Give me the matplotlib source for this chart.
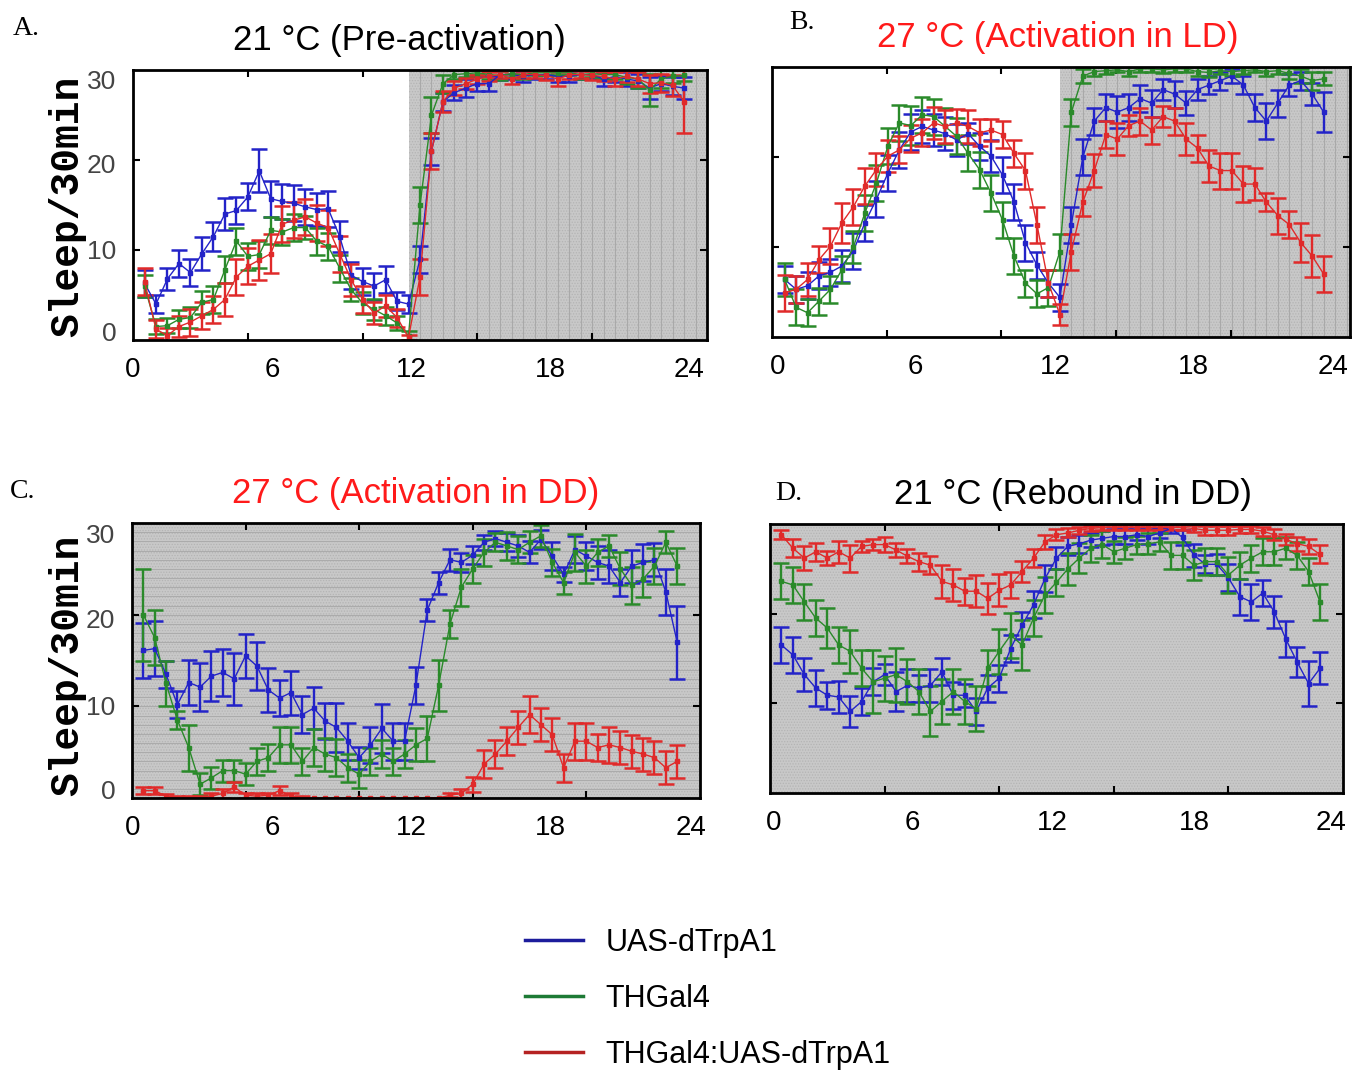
import numpy as np
import matplotlib
matplotlib.use("Agg")
import matplotlib.pyplot as plt
from matplotlib.lines import Line2D

plt.rcParams["font.family"] = ["Liberation Sans", "DejaVu Sans"]
plt.rcParams["hatch.linewidth"] = 0.6

# 30-min bins, hours
hours = np.arange(1, 49) * 0.5

# ---- A. 21 C pre-activation (LD) ----
blue_a = [6.3, 4.0, 6.8, 8.5, 7.5, 9.6, 11.5, 14.0, 14.4, 15.9, 18.8, 15.7, 15.4, 15.2, 14.8, 14.5, 14.6, 11.5, 7.2, 6.5, 6.0, 6.7, 4.3, 4.0,
          9.0, 21.0, 26.5, 27.5, 28.0, 28.5, 28.5, 29.5, 29.5, 29.3, 29.5, 29.5, 29.3, 29.3, 29.5, 29.5, 29.0, 29.3, 29.0, 28.8, 28.0, 28.5, 28.2, 28.0]
blue_a_err = [1.5, 1.0, 1.2, 1.5, 1.5, 1.8, 1.6, 1.8, 1.5, 1.5, 2.4, 2.0, 1.9, 2.0, 2.0, 1.8, 2.0, 1.7, 1.5, 1.5, 1.5, 1.5, 1.0, 1.0,
              1.5, 1.5, 1.0, 0.8, 1.0, 0.8, 0.8, 0.6, 0.5, 0.6, 0.5, 0.5, 0.6, 0.6, 0.5, 0.5, 0.8, 0.6, 0.8, 0.8, 1.2, 0.8, 1.0, 1.2]
green_a = [6.0, 1.5, 1.6, 2.3, 2.5, 4.2, 4.5, 7.8, 11.0, 9.3, 9.5, 12.2, 12.0, 12.5, 12.5, 11.0, 10.4, 8.0, 5.6, 4.1, 3.4, 2.7, 1.9, 0.5,
           15.0, 25.0, 28.5, 29.5, 29.6, 29.7, 29.5, 29.4, 29.6, 29.5, 29.7, 29.7, 29.7, 29.7, 29.5, 29.6, 29.5, 29.5, 29.2, 29.0, 27.8, 29.0, 29.3, 29.4]
green_a_err = [1.2, 0.8, 0.8, 1.0, 1.2, 1.3, 1.5, 1.5, 1.5, 1.5, 1.5, 1.5, 1.4, 1.5, 1.3, 1.5, 1.5, 1.5, 1.3, 1.2, 1.2, 1.0, 0.8, 0.5,
               2.0, 2.0, 1.0, 0.5, 0.4, 0.3, 0.5, 0.5, 0.4, 0.5, 0.3, 0.3, 0.3, 0.3, 0.5, 0.4, 0.5, 0.5, 0.8, 1.0, 1.8, 1.0, 0.7, 0.6]
red_a = [6.5, 1.2, 0.5, 1.5, 2.0, 2.7, 3.4, 4.5, 7.0, 8.2, 8.9, 9.6, 12.9, 13.3, 13.7, 13.0, 12.5, 9.6, 6.7, 4.5, 3.0, 3.8, 2.5, 0.3,
         7.0, 21.0, 26.5, 28.0, 28.5, 29.0, 29.3, 29.5, 29.0, 29.5, 29.5, 29.4, 29.0, 29.5, 29.5, 29.4, 29.3, 29.0, 29.3, 29.0, 28.5, 28.6, 28.3, 26.5]
red_a_err = [1.5, 1.0, 0.8, 1.2, 1.5, 1.5, 1.5, 1.8, 2.0, 2.0, 2.2, 2.2, 2.0, 2.0, 2.0, 2.0, 2.0, 2.0, 1.8, 1.5, 1.2, 1.2, 1.0, 0.3,
             2.0, 2.0, 1.2, 0.8, 0.6, 0.5, 0.5, 0.4, 0.6, 0.4, 0.4, 0.5, 0.8, 0.5, 0.4, 0.5, 0.5, 0.8, 0.6, 0.8, 1.0, 1.0, 1.2, 3.5]

# ---- B. 27 C activation in LD ----
blue_b = [6.4, 5.3, 5.7, 6.8, 7.2, 7.9, 9.6, 12.7, 15.3, 18.2, 20.8, 22.8, 23.4, 23.0, 22.6, 21.9, 22.6, 21.2, 20.1, 18.0, 15.0, 10.5, 8.0, 6.0,
          4.4, 12.5, 20.0, 24.0, 25.5, 25.0, 25.5, 26.5, 26.0, 27.5, 27.0, 26.0, 27.5, 28.0, 28.5, 29.0, 28.0, 25.5, 24.0, 26.0, 28.0, 28.5, 27.0, 25.0]
blue_b_err = [1.5, 1.5, 1.5, 1.5, 1.5, 1.8, 2.0, 2.0, 2.0, 2.0, 2.0, 2.0, 1.8, 1.8, 1.8, 1.8, 1.2, 1.5, 1.8, 2.0, 2.0, 2.0, 1.5, 1.5,
              1.5, 2.0, 2.0, 1.5, 1.5, 1.8, 1.5, 1.5, 1.5, 1.2, 1.5, 1.3, 1.2, 1.0, 1.0, 0.8, 1.0, 1.5, 2.0, 1.5, 1.2, 1.0, 1.2, 2.2]
green_b = [6.4, 3.3, 2.7, 4.0, 5.3, 7.5, 10.0, 13.8, 17.1, 21.2, 23.8, 23.5, 24.7, 24.5, 23.4, 22.3, 20.4, 18.6, 16.0, 13.0, 9.0, 6.0, 4.8, 5.5,
           9.5, 25.0, 29.0, 29.5, 29.6, 29.7, 29.5, 29.8, 29.8, 29.7, 29.8, 29.8, 29.5, 29.4, 29.6, 29.5, 29.6, 29.7, 29.5, 29.6, 29.3, 29.0, 28.5, 28.7]
green_b_err = [1.8, 2.0, 1.5, 1.5, 1.5, 1.5, 1.8, 2.0, 2.0, 2.0, 2.0, 2.2, 2.0, 2.0, 2.0, 2.0, 2.0, 2.0, 2.0, 2.0, 2.0, 1.5, 1.5, 2.0,
               2.0, 1.5, 0.8, 0.5, 0.4, 0.3, 0.5, 0.3, 0.3, 0.4, 0.3, 0.3, 0.5, 0.5, 0.4, 0.5, 0.4, 0.3, 0.5, 0.4, 0.6, 0.8, 1.0, 0.7]
red_b = [4.9, 5.3, 6.4, 8.6, 10.1, 12.7, 14.5, 16.8, 18.6, 20.1, 20.8, 22.1, 22.7, 23.8, 23.4, 23.8, 23.4, 22.7, 23.0, 22.5, 20.4, 18.5, 12.5, 6.0,
         2.5, 9.5, 15.0, 18.5, 22.5, 22.0, 23.5, 24.0, 23.0, 24.5, 24.0, 22.0, 21.0, 19.0, 18.5, 18.5, 17.0, 17.0, 15.0, 13.5, 12.5, 10.5, 9.0, 7.0]
red_b_err = [2.0, 1.5, 1.8, 1.5, 2.0, 2.2, 2.0, 2.0, 1.8, 1.8, 1.5, 1.5, 1.5, 1.8, 1.8, 1.5, 1.8, 1.5, 1.2, 1.5, 1.5, 2.0, 2.0, 1.5,
             1.2, 2.0, 1.5, 1.8, 1.5, 1.8, 1.2, 1.5, 1.5, 1.2, 1.5, 1.8, 1.5, 1.8, 2.0, 2.0, 2.0, 1.8, 1.0, 2.0, 1.5, 2.2, 2.3, 2.0]

# ---- C. 27 C activation in DD ----
blue_c = [16.1, 16.3, 13.5, 10.2, 12.6, 12.1, 13.3, 13.7, 13.0, 15.5, 14.4, 11.8, 10.9, 11.5, 9.1, 9.8, 8.4, 7.7, 6.2, 4.4, 5.8, 7.6, 6.2, 6.2,
          12.3, 20.5, 23.5, 26.0, 25.7, 26.5, 27.9, 28.3, 27.9, 27.5, 26.8, 28.2, 26.4, 24.4, 27.1, 26.4, 25.7, 25.3, 23.5, 25.3, 25.7, 26.0, 22.5, 17.0]
blue_c_err = [3.0, 3.0, 1.5, 1.5, 2.5, 2.6, 2.7, 2.6, 2.8, 2.4, 2.6, 2.4, 2.0, 2.4, 2.0, 2.3, 2.0, 2.7, 2.0, 1.2, 2.0, 2.7, 2.0, 2.0,
              2.0, 1.2, 1.2, 1.2, 1.0, 1.0, 0.8, 0.8, 1.0, 1.2, 1.2, 1.0, 1.5, 0.8, 1.5, 1.5, 1.8, 1.8, 1.5, 1.8, 2.0, 1.8, 2.5, 4.0]
green_c = [20.0, 17.5, 12.5, 8.5, 5.5, 1.5, 2.2, 3.0, 3.0, 2.6, 4.0, 4.4, 5.8, 5.8, 4.0, 5.5, 4.8, 4.4, 3.3, 2.6, 4.0, 4.8, 4.0, 4.8,
           5.8, 6.5, 12.3, 19.0, 23.0, 25.0, 26.8, 27.9, 27.5, 27.1, 27.9, 28.6, 25.7, 23.5, 26.8, 25.3, 26.8, 27.5, 25.0, 23.2, 23.9, 25.3, 27.9, 25.3]
green_c_err = [5.0, 3.0, 2.5, 1.0, 2.5, 1.2, 1.2, 1.2, 1.2, 1.2, 1.5, 1.5, 2.0, 2.0, 1.5, 2.0, 1.8, 2.0, 1.5, 1.5, 1.5, 1.5, 1.5, 1.5,
               1.8, 2.5, 2.8, 1.5, 2.0, 1.5, 1.5, 1.0, 1.5, 1.5, 1.2, 1.2, 1.5, 1.2, 2.0, 1.8, 1.5, 1.2, 1.8, 2.0, 2.0, 2.0, 1.2, 2.0]
red_c = [0.8, 0.8, 0.2, 0.0, 0.0, 0.0, 0.2, 0.5, 1.2, 0.3, 0.2, 0.3, 0.8, 0.2, 0.0, 0.0, 0.0, 0.0, 0.0, 0.0, 0.0, 0.0, 0.0, 0.0,
         0.0, 0.0, 0.0, 0.3, 0.5, 1.5, 3.7, 4.8, 6.2, 7.7, 9.1, 8.0, 6.9, 3.3, 6.2, 6.2, 5.5, 5.8, 5.5, 5.1, 4.8, 4.4, 3.3, 4.0]
red_c_err = [0.4, 0.4, 0.2, 0.2, 0.2, 0.2, 0.3, 0.5, 0.5, 0.3, 0.3, 0.3, 0.5, 0.3, 0.2, 0.0, 0.0, 0.0, 0.0, 0.0, 0.0, 0.0, 0.0, 0.0,
             0.0, 0.0, 0.0, 0.2, 0.5, 0.8, 1.5, 1.5, 1.5, 1.8, 2.0, 1.8, 1.8, 1.5, 2.0, 2.0, 1.5, 2.0, 1.8, 1.8, 1.8, 1.8, 1.8, 1.8]

# ---- D. 21 C rebound in DD ----
blue_d = [16.5, 15.4, 13.2, 11.7, 10.9, 10.7, 9.1, 10.2, 12.4, 13.2, 11.3, 12.0, 11.7, 12.0, 13.5, 10.9, 10.9, 9.1, 11.7, 12.8, 16.1, 18.7, 21.0, 23.9,
          26.2, 27.5, 27.8, 28.2, 28.4, 28.6, 28.6, 28.8, 28.6, 29.0, 29.5, 28.5, 26.5, 25.5, 25.5, 24.0, 21.9, 21.3, 22.3, 20.2, 17.2, 14.6, 12.2, 13.9]
blue_d_err = [2.0, 2.0, 1.8, 2.0, 1.5, 1.8, 1.7, 1.5, 1.5, 1.2, 2.2, 1.8, 1.5, 1.8, 1.5, 1.5, 1.3, 1.5, 1.5, 1.5, 1.5, 1.5, 1.5, 1.5,
              1.2, 1.0, 1.0, 0.8, 0.8, 0.8, 0.8, 0.6, 0.8, 0.6, 0.5, 0.8, 1.3, 1.0, 1.2, 1.5, 2.0, 2.0, 1.5, 1.8, 2.0, 1.7, 2.5, 1.8]
green_d = [23.6, 23.2, 21.3, 19.5, 18.4, 16.5, 15.8, 13.9, 12.4, 12.8, 13.2, 12.4, 11.3, 9.1, 10.2, 11.3, 10.2, 9.4, 13.9, 15.8, 17.6, 16.5, 19.5, 22.1,
           23.5, 25.0, 26.2, 27.3, 27.7, 26.9, 27.3, 27.7, 27.8, 28.0, 26.5, 26.5, 25.4, 25.8, 25.8, 24.3, 25.4, 26.2, 26.9, 26.9, 27.3, 26.5, 24.7, 21.3]
green_d_err = [2.0, 2.0, 2.0, 2.0, 2.2, 2.0, 2.4, 2.0, 3.5, 2.5, 3.0, 2.5, 2.5, 2.8, 2.5, 2.5, 2.5, 2.5, 2.0, 2.5, 2.5, 2.8, 2.0, 2.0,
               1.5, 1.8, 1.7, 1.5, 1.5, 1.2, 1.2, 1.0, 1.2, 1.0, 1.5, 1.5, 1.7, 1.5, 1.5, 2.0, 1.5, 1.5, 1.5, 1.5, 1.2, 1.5, 1.5, 2.0]
red_d = [28.8, 27.3, 26.2, 26.9, 26.2, 26.9, 26.2, 27.5, 27.7, 27.7, 27.1, 26.4, 25.8, 25.4, 23.6, 23.2, 22.5, 22.5, 21.7, 22.6, 23.2, 24.7, 26.2, 28.0,
         28.8, 29.0, 29.3, 29.5, 29.6, 29.6, 29.6, 29.6, 29.6, 29.6, 29.6, 29.6, 29.5, 29.3, 29.3, 29.3, 29.4, 29.4, 29.2, 28.8, 28.3, 27.8, 27.5, 26.6]
red_d_err = [0.5, 1.0, 1.3, 1.0, 0.8, 1.2, 1.5, 0.6, 0.6, 0.8, 0.8, 0.8, 1.0, 1.0, 1.8, 1.8, 1.5, 1.8, 1.7, 1.8, 1.5, 1.2, 1.0, 0.8,
             0.6, 0.5, 0.4, 0.3, 0.3, 0.3, 0.3, 0.3, 0.3, 0.3, 0.3, 0.3, 0.4, 0.5, 0.5, 0.5, 0.4, 0.4, 0.5, 0.6, 0.6, 0.8, 0.8, 1.0]

labels = ["UAS-dTrpA1", "THGal4", "THGal4:UAS-dTrpA1"]
colors = ["#2323c8", "#2a8a2a", "#e02a2a"]
legend_colors = ["#1c1c9c", "#1d7a35", "#b52222"]
hour_labels = ["0", "6", "12", "18", "24"]
sleep_labels = ["0", "10", "20", "30"]

NIGHT = "#c8c8c8"


def style_axes(ax, xlim, xlab_pos, show_ylabels):
    ax.set_xlim(*xlim)
    ax.set_ylim(0, 30)
    for s in ax.spines.values():
        s.set_linewidth(2)
    # the hour labels sit on their own, the inward ticks mark every 10 bins
    ax.set_xticks(xlab_pos)
    ax.set_xticklabels(hour_labels)
    ax.tick_params(axis="x", which="major", length=0, pad=12, labelsize=20)
    ax.set_xticks([xlim[0] + 5 * k for k in range(1, 5)], minor=True)
    ax.tick_params(axis="x", which="minor", direction="in", length=5, width=1.5,
                   top=True, bottom=True)
    ax.set_yticks([0.9, 10.1, 19.6, 28.9])
    ax.set_yticklabels(sleep_labels if show_ylabels else [])
    ax.tick_params(axis="y", which="major", length=0, labelsize=19,
                   labelcolor="#444444", pad=12)
    ax.set_yticks([10, 20], minor=True)
    ax.tick_params(axis="y", which="minor", direction="in", length=5, width=1.5,
                   left=True, right=True)


def night(ax, x0, x1, lines=None, step=0.5):
    ax.axvspan(x0, x1, facecolor=NIGHT, edgecolor="#b4b4b4", hatch="......", lw=0, zorder=0)
    if lines == "v":
        ax.vlines(np.arange(x0 + step, x1, step), 0, 30, color="#a9a9a9", lw=0.8, zorder=0.5)
    elif lines == "h":
        ax.hlines(np.arange(1, 30, 1), x0, x1, color="#ababab", lw=0.7, zorder=0.5)


def draw_series(ax, x, series):
    for (y, e), c in zip(series, colors):
        ax.errorbar(x, y, yerr=e, color=c, lw=1.0, elinewidth=1.7, capsize=5.5,
                    capthick=1.8, marker="s", ms=2.5, zorder=2)


fig = plt.figure(figsize=(13.63, 10.70), dpi=100)

ax_a = fig.add_axes([0.0976, 0.6822, 0.4211, 0.2523])
ax_b = fig.add_axes([0.5664, 0.6850, 0.4241, 0.2523])
ax_c = fig.add_axes([0.0968, 0.2542, 0.4167, 0.2570])
ax_d = fig.add_axes([0.5649, 0.2589, 0.4204, 0.2514])

# A
night(ax_a, 12, 25, "v")
draw_series(ax_a, hours, [(blue_a, blue_a_err), (green_a, green_a_err), (red_a, red_a_err)])
style_axes(ax_a, (0, 25), [0, 6.05, 12.1, 18.2, 24.2], True)

# B (this panel's bins start half an hour earlier)
night(ax_b, 12, 24.65, "v")
draw_series(ax_b, hours - 0.5, [(blue_b, blue_b_err), (green_b, green_b_err), (red_b, red_b_err)])
style_axes(ax_b, (-0.55, 24.65), [-0.3, 5.7, 11.8, 17.8, 23.9], False)

# C
night(ax_c, 0, 25, "h")
draw_series(ax_c, hours, [(blue_c, blue_c_err), (green_c, green_c_err), (red_c, red_c_err)])
style_axes(ax_c, (0, 25), [0.05, 6.2, 12.3, 18.4, 24.6], True)

# D
night(ax_d, 0, 25)
draw_series(ax_d, hours, [(blue_d, blue_d_err), (green_d, green_d_err), (red_d, red_d_err)])
style_axes(ax_d, (0, 25), [0.15, 6.2, 12.3, 18.5, 24.5], False)

# titles
fig.text(0.293, 0.9620, "21 °C (Pre-activation)", ha="center", va="center", fontsize=25)
fig.text(0.776, 0.9645, "27 °C (Activation in LD)", ha="center", va="center", fontsize=25, color="#ff1a1a")
fig.text(0.305, 0.5390, "27 °C (Activation in DD)", ha="center", va="center", fontsize=25, color="#ff1a1a")
fig.text(0.787, 0.5380, "21 °C (Rebound in DD)", ha="center", va="center", fontsize=25)

# panel letters
for x, y, t in [(0.009, 0.973, "A."), (0.579, 0.979, "B."), (0.007, 0.541, "C."), (0.569, 0.539, "D.")]:
    fig.text(x, y, t, ha="left", va="center", fontsize=20, family="Liberation Serif")

# y labels
for y in [0.807, 0.378]:
    fig.text(0.049, y, "Sleep/30min", rotation=90, ha="center", va="center",
             fontsize=28.5, family="Liberation Mono", weight="bold")

# legend
handles = [Line2D([], [], color=c, lw=2.5) for c in legend_colors]
fig.legend(handles, labels, loc="center left", bbox_to_anchor=(0.385, 0.0665),
           frameon=False, fontsize=22, handlelength=1.9, handletextpad=0.75,
           labelspacing=0.85, borderpad=0, borderaxespad=0)

fig.savefig("out.png", dpi=100)
